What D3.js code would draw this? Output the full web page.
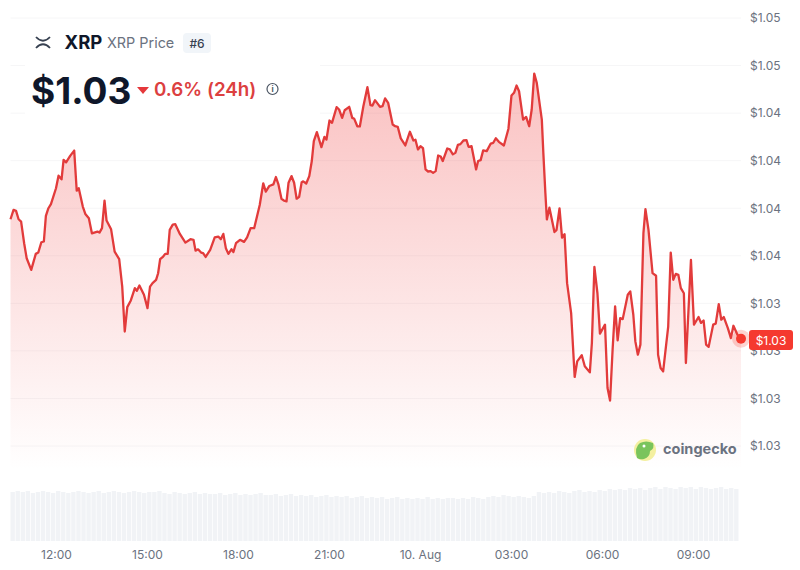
<!DOCTYPE html>
<html>
<head>
<meta charset="utf-8">
<script src="https://cdn.jsdelivr.net/npm/d3@7"></script>
<style>
  html, body { margin: 0; padding: 0; background: #fff; }
  svg { display: block; font-family: Inter, "Noto Sans", sans-serif; }
</style>
</head>
<body>
<div id="chart"></div>
<script>
// minutes since 00:00 on 9 Aug
const times = [
  630,636,641,646,651,657,662,671,680,685,691,696,700,705,710,720,725,731,735,740,748,756,761,765,773,778,785,791,802,806,811,816,820,829,836,845,851,856,861,868,876,880,885,894,901,906,911,918,922,926,932,936,941,945,951,956,965,976,986,992,996,1001,1007,1011,1016,1025,1034,1041,1046,1051,1056,1061,1067,1071,1076,1084,1092,1098,1105,1112,1123,1130,1135,1142,
  1150,1155,1160,1166,1171,1176,1180,1186,1191,1196,1201,1206,1209,1215,1221,1226,1230,1236,1245,1251,1255,1261,1266,1275,1280,1286,1291,1300,1306,1310,1316,1321,1328,1336,1342,1346,1351,1361,1366,1371,1377,1386,1391,1396,1402,1411,1420,1427,1431,1436,1441,1446,1451,1456,1461,1466,1471,1476,1481,1485,1494,1499,1505,1510,1515,1520,1526,1532,1536,1542,1551,1555,1560,1565,1572,1580,1585,1590,1596,1606,1615,1621,1626,1631,1636,1644,1650,1656,1661,1666,1671,1681,1684,1688,1691,1696,1706,1710,1716,1721,1726,
  1731,1739,1746,1751,1760,1766,1776,1780,1785,1791,1796,1806,1811,1816,1821,1826,1831,1836,1841,1851,1856,1862,1866,1871,1876,1882,1886,1892,1900,1907,1911,1916,1921,1931,1936,1941,1946,1951,1956,1962,1966,1976,1982,1991,1996,2001,2006,2011,2020,2025,2031,2036,2041,2049,2055,2060,2068,2075
];
const prices = [
  1.03942,1.03991,1.03986,1.03942,1.0393,1.03816,1.03737,1.03676,1.0376,1.03767,1.03821,1.03825,1.0396,1.04,1.04022,1.04105,1.04171,1.04152,1.04254,1.04241,1.04275,1.04303,1.04092,1.04105,1.04009,1.0397,1.03947,1.03868,1.03877,1.03872,1.03895,1.0404,1.03935,1.03889,1.03772,1.03732,1.03588,1.03352,1.0348,1.03515,1.0358,1.03566,1.03594,1.03545,1.03475,1.03588,1.03606,1.03623,1.03658,1.03732,1.03746,1.0376,1.0376,1.03886,1.03914,1.03916,1.03865,1.03819,1.03837,1.03834,1.03777,1.03784,1.03767,1.03764,1.03744,1.03781,1.03847,1.03851,1.03837,1.03865,1.0379,1.0376,1.03784,1.0377,1.03816,1.03834,1.03823,1.03847,1.03895,1.03895,1.04017,1.04131,1.04087,1.04117,
  1.04125,1.04164,1.04125,1.0405,1.0404,1.04036,1.04134,1.04169,1.04134,1.0405,1.0406,1.04137,1.04141,1.0413,1.04169,1.04248,1.04353,1.044,1.04321,1.04375,1.04361,1.04461,1.04449,1.04531,1.04519,1.04475,1.04515,1.04533,1.04475,1.0447,1.04431,1.0443,1.04536,1.04636,1.04542,1.0454,1.04568,1.04533,1.04537,1.04577,1.04554,1.0444,1.04431,1.04428,1.04367,1.0433,1.04402,1.04356,1.0436,1.04309,1.04326,1.04316,1.04204,1.04193,1.04195,1.04186,1.04195,1.04277,1.04272,1.04248,1.04314,1.04309,1.04283,1.04291,1.04333,1.04337,1.04356,1.04358,1.04323,1.04326,1.04204,1.04248,1.04253,1.04304,1.043,1.0434,1.04344,1.04368,1.04349,1.0433,1.04418,1.04593,1.04607,1.04645,1.04615,1.04466,1.0448,1.04431,1.04519,1.04708,1.04659,1.04466,1.04291,1.04081,1.03941,1.04003,1.03875,1.03885,1.03999,1.03845,1.03863,
  1.03606,1.03449,1.03113,1.03195,1.03227,1.03169,1.03137,1.03291,1.03691,1.03553,1.03341,1.03388,1.03055,1.02989,1.03256,1.03484,1.03305,1.03422,1.03417,1.03545,1.03563,1.0344,1.033,1.0323,1.03283,1.03869,1.03995,1.03886,1.03659,1.03645,1.0323,1.0316,1.03142,1.03378,1.03767,1.03624,1.03655,1.0365,1.0358,1.03553,1.03186,1.03728,1.03388,1.03428,1.03397,1.0341,1.03283,1.03271,1.03388,1.03393,1.03496,1.03414,1.03428,1.0337,1.03317,1.03382,1.03335,1.03314
];
// one value per 10 minutes
const volumes = [
  49,50,49,50,48,49,50,49,48,50,49,48,49,50,49,48,49,50,48,49,50,49,48,49,50,49,48,49,49,50,48,47,49,48,47,48,49,47,48,47,
  47,48,46,47,48,46,47,46,47,48,46,46,47,45,46,47,45,46,45,46,44,45,46,44,45,44,45,43,44,45,43,44,43,44,42,43,44,42,43,42,
  43,42,44,42,43,42,43,43,42,43,42,44,43,42,44,45,44,46,45,44,45,44,43,45,49,48,49,48,50,49,48,50,51,49,50,49,51,50,52,51,
  52,51,53,52,53,51,53,54,52,54,53,52,54,53,54,52,54,53,52,53,54,52,53,52
];
const volumeStep = 10;

const yTicks = [1.05, 1.0475, 1.045, 1.0425, 1.04, 1.0375, 1.035, 1.0325, 1.03, 1.0275];
const yTickLabels = ["$1.05", "$1.05", "$1.04", "$1.04", "$1.04", "$1.04", "$1.03", "$1.03", "$1.03", "$1.03"];
const xTicks = [720, 900, 1080, 1260, 1440, 1620, 1800, 1980];
const xTickLabels = ["12:00", "15:00", "18:00", "21:00", "10. Aug", "03:00", "06:00", "09:00"];

const width = 800, height = 570;
const red = "#e23b3b";
const areaBottom = 470, volBottom = 541;

const svg = d3.select("#chart").append("svg")
  .attr("width", width)
  .attr("height", height);

const x = d3.scaleLinear().domain([630, 2075]).range([10.5, 741]);
const y = d3.scaleLinear().domain([1.0275, 1.05]).range([446, 18]);
const v = d3.scaleLinear().domain([0, 60]).range([volBottom, volBottom - 60]);

const data = times.map((t, i) => ({ t, p: prices[i] }));

// --- Gradient under the line ---
const grad = svg.append("defs").append("linearGradient")
  .attr("id", "fade")
  .attr("gradientUnits", "userSpaceOnUse")
  .attr("x1", 0).attr("x2", 0)
  .attr("y1", 75).attr("y2", areaBottom);
grad.append("stop").attr("offset", 0).attr("stop-color", "#f04444").attr("stop-opacity", 0.33);
grad.append("stop").attr("offset", 1).attr("stop-color", "#f04444").attr("stop-opacity", 0);

// --- Grid ---
svg.append("g").selectAll("line")
  .data(yTicks)
  .enter().append("line")
  .attr("x1", x.range()[0])
  .attr("x2", x.range()[1])
  .attr("y1", d => y(d))
  .attr("y2", d => y(d))
  .attr("stroke", "#f6f6f7");

// --- Area and line ---
svg.append("path")
  .datum(data)
  .attr("fill", "url(#fade)")
  .attr("d", d3.area().x(d => x(d.t)).y0(areaBottom).y1(d => y(d.p)));

// header box hides the grid behind the title block
svg.append("rect")
  .attr("x", 25).attr("y", 21)
  .attr("width", 295).attr("height", 100)
  .attr("fill", "#fff");

svg.append("path")
  .datum(data)
  .attr("fill", "none")
  .attr("stroke", red)
  .attr("stroke-width", 2.3)
  .attr("stroke-linejoin", "round")
  .attr("d", d3.line().x(d => x(d.t)).y(d => y(d.p)));

// --- Volume strip ---
const band = d3.scaleBand()
  .domain(d3.range(volumes.length))
  .range([x(630), x(630 + volumes.length * volumeStep)])
  .paddingInner(0.14);

svg.append("g").selectAll("rect")
  .data(volumes)
  .enter().append("rect")
  .attr("x", (d, i) => band(i))
  .attr("y", d => v(d))
  .attr("width", band.bandwidth())
  .attr("height", d => v(0) - v(d))
  .attr("fill", "#f1f3f6");

// --- Axes ---
const yAxis = svg.append("g")
  .attr("transform", "translate(741,0)")
  .call(d3.axisRight(y).tickValues(yTicks).tickSize(0).tickPadding(9)
    .tickFormat((d, i) => yTickLabels[i]));
yAxis.select(".domain").remove();
yAxis.selectAll("text")
  .attr("fill", "#6b7280")
  .style("font-family", "Inter")
  .style("font-size", "12px");

const xAxis = svg.append("g")
  .attr("transform", `translate(0,${volBottom})`)
  .call(d3.axisBottom(x).tickValues(xTicks).tickSize(0).tickPadding(9)
    .tickFormat((d, i) => xTickLabels[i]));
xAxis.select(".domain").remove();
xAxis.selectAll("text")
  .attr("fill", "#6b7280")
  .style("font-family", "Inter")
  .style("font-size", "12px");

// --- Last price marker ---
const last = data[data.length - 1];
svg.append("circle")
  .attr("cx", x(last.t)).attr("cy", y(last.p)).attr("r", 9)
  .attr("fill", "#f5392f").attr("opacity", 0.22);
svg.append("circle")
  .attr("cx", x(last.t)).attr("cy", y(last.p)).attr("r", 5)
  .attr("fill", "#f5392f");
svg.append("rect")
  .attr("x", 749).attr("y", 330)
  .attr("width", 44).attr("height", 20)
  .attr("rx", 3)
  .attr("fill", "#f5392f");
svg.append("text")
  .attr("x", 771).attr("y", 344.5)
  .attr("text-anchor", "middle")
  .attr("fill", "#fff")
  .style("font-size", "12px")
  .text(yTickLabels[8]);

// --- Header ---
const head = svg.append("g");
head.append("path")
  .attr("d", "M36,37 Q43,44.5 50,37 M36,48 Q43,40.5 50,48")
  .attr("fill", "none")
  .attr("stroke", "#374151")
  .attr("stroke-width", 1.8);
head.append("text")
  .attr("x", 64.5).attr("y", 48.5)
  .attr("fill", "#0f172a")
  .style("font-size", "18.5px")
  .style("font-weight", 700)
  .text("XRP");
head.append("text")
  .attr("x", 107).attr("y", 48)
  .attr("fill", "#6b7280")
  .style("font-size", "14.4px")
  .text("XRP Price");
head.append("rect")
  .attr("x", 183).attr("y", 33)
  .attr("width", 28).attr("height", 20)
  .attr("rx", 4)
  .attr("fill", "#f1f5f9");
head.append("text")
  .attr("x", 197).attr("y", 48)
  .attr("text-anchor", "middle")
  .attr("fill", "#374151")
  .style("font-size", "12px")
  .style("font-weight", 500)
  .text("#6");
head.append("text")
  .attr("x", 31).attr("y", 104)
  .attr("fill", "#0f172a")
  .style("font-size", "37px")
  .style("font-weight", 700)
  .text("$1.03");
head.append("path")
  .attr("d", "M137,87 L149,87 L143,94 Z")
  .attr("fill", "#e5383b");
head.append("text")
  .attr("x", 154).attr("y", 96)
  .attr("fill", "#dc4040")
  .style("font-size", "18.8px")
  .style("font-weight", 600)
  .text("0.6% (24h)");
head.append("circle")
  .attr("cx", 272.5).attr("cy", 89).attr("r", 5.5)
  .attr("fill", "none")
  .attr("stroke", "#4b5563")
  .attr("stroke-width", 1.2);
head.append("text")
  .attr("x", 272.5).attr("y", 92)
  .attr("text-anchor", "middle")
  .attr("fill", "#4b5563")
  .style("font-size", "8px")
  .style("font-weight", 700)
  .text("i");

// --- Coingecko mark ---
const logo = svg.append("g");
logo.append("circle").attr("cx", 645).attr("cy", 450).attr("r", 11).attr("fill", "#f4f0a0");
logo.append("path")
  .attr("d", "M637,458 Q634,447 640,443 Q646,440 653,443 Q655,448 650,451 Q650,457 644,459 Q640,460 637,458 Z")
  .attr("fill", "#7ac45c");
logo.append("circle").attr("cx", 644).attr("cy", 446).attr("r", 1.5).attr("fill", "#fff");
logo.append("text")
  .attr("x", 663).attr("y", 454)
  .attr("fill", "#6b7280")
  .style("font-family", "Inter")
  .style("font-size", "14.5px")
  .style("font-weight", 700)
  .text("coingecko");
</script>
</body>
</html>
